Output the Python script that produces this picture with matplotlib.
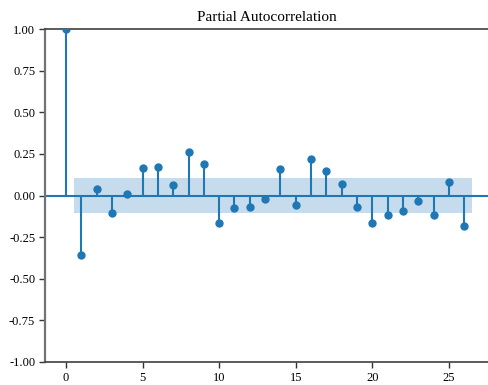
import matplotlib
matplotlib.use("Agg")
import matplotlib.pyplot as plt
import numpy as np

plt.rcParams['font.family'] = ['Liberation Serif', 'DejaVu Serif']
plt.rcParams['axes.unicode_minus'] = False

lags = list(range(0, 27))
pacf_values = [1.0, -0.357, 0.04, -0.105, 0.01, 0.165, 0.17, 0.063, 0.26, 0.19,
               -0.165, -0.077, -0.072, -0.023, 0.157, -0.055, 0.217, 0.145, 0.071,
               -0.067, -0.165, -0.117, -0.093, -0.033, -0.117, 0.081, -0.181]
conf_half = 0.105
title = "Partial Autocorrelation"
yticks = [-1.00, -0.75, -0.50, -0.25, 0.00, 0.25, 0.50, 0.75, 1.00]
xticks = [0, 5, 10, 15, 20, 25]

fig = plt.figure(figsize=(4.88, 3.85), dpi=100)
ax = fig.add_axes([45/488, 1-362/385, 1-45/488, (362-29)/385])

c = '#1f77b4'
lg = np.array(lags, dtype=float)
vals = np.array(pacf_values)
ax.axhline(0, color=c, lw=1.5, zorder=1)
ax.vlines(lg, 0, vals, color=c, lw=1.5, zorder=2)
ax.plot(lg, vals, 'o', color=c, markersize=5, zorder=3)
band_x = lg[1:].copy()
band_x[0] -= 0.5
band_x[-1] += 0.5
ax.fill_between(band_x, -conf_half, conf_half, color=c, alpha=0.25, lw=0, zorder=0)

ax.set_xlim(-1.371, 27.55)
ax.set_ylim(-1.0, 1.0)
ax.set_yticks(yticks)
ax.set_yticklabels([f"{v:.2f}" for v in yticks])
ax.set_xticks(xticks)
ax.set_title(title, fontsize=11)
ax.tick_params(labelsize=9, length=4, width=1, color='0.2', pad=3)
ax.spines['right'].set_visible(False)
ax.spines['left'].set_color('0.45')
ax.spines['left'].set_linewidth(1.6)
for s in ['top', 'bottom']:
    ax.spines[s].set_color('0.25')
    ax.spines[s].set_linewidth(1.2)

fig.savefig("out.png", dpi=100)
